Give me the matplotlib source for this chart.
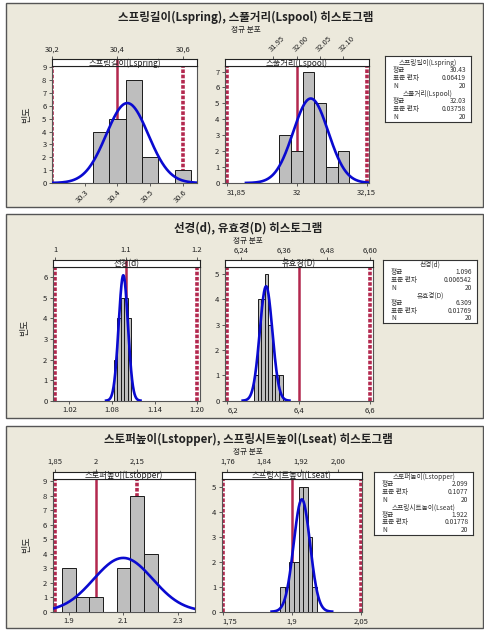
import numpy as np
import matplotlib
matplotlib.use('Agg')
import matplotlib.pyplot as plt
from matplotlib.patches import Rectangle

plt.rcParams['font.family'] = ['Noto Sans CJK KR', 'DejaVu Sans']

# ---------------- data ----------------
# Panel 1
spring_bins = [30.35, 30.40, 30.45, 30.50, 30.55, 30.60]
spring_counts = [4, 5, 8, 2, 0, 1]
spring_width = 0.05
spring_mean, spring_sd, spring_n = 30.43, 0.06419, 20
spring_spec = [30.2, 30.4, 30.6]

spool_bins = [31.975, 32.000, 32.025, 32.050, 32.075, 32.100]
spool_counts = [3, 2, 7, 5, 1, 2]
spool_width = 0.025
spool_mean, spool_sd, spool_n = 32.03, 0.03758, 20
spool_spec = [31.85, 32.0, 32.15]

# Panel 2
d_bins = [1.085, 1.090, 1.095, 1.100, 1.105]
d_counts = [2, 4, 5, 5, 4]
d_width = 0.005
d_mean, d_sd, d_n = 1.096, 0.006542, 20
d_spec = [1.0, 1.1, 1.2]

D_bins = [6.28, 6.29, 6.30, 6.31, 6.32, 6.33, 6.34, 6.35]
D_counts = [1, 4, 4, 5, 3, 1, 1, 1]
D_width = 0.01
D_mean, D_sd, D_n = 6.309, 0.01769, 20
D_spec = [6.2, 6.4, 6.6]

# Panel 3
stopper_bins = [1.90, 1.95, 2.00, 2.05, 2.10, 2.15, 2.20]
stopper_counts = [3, 1, 1, 0, 3, 8, 4]
stopper_width = 0.05
stopper_mean, stopper_sd, stopper_n = 2.099, 0.1077, 20
stopper_spec = [1.85, 2.0, 2.15]

seat_bins = [1.88, 1.89, 1.90, 1.91, 1.92, 1.93, 1.94, 1.95]
seat_counts = [1, 1, 2, 2, 5, 5, 3, 1]
seat_width = 0.01
seat_mean, seat_sd, seat_n = 1.922, 0.01778, 20
seat_spec = [1.75, 1.90, 2.05]

titles = ['스프링길이(Lspring), 스풀거리(Lspool) 히스토그램',
          '선경(d), 유효경(D) 히스토그램',
          '스토퍼높이(Lstopper), 스프링시트높이(Lseat) 히스토그램']
subtitle = '정규 분포'
ylabel = '빈도'
stat_labels = ['평균', '표준 편차', 'N']

# ---------------- style ----------------
W, H = 485, 630
RED = '#B3284E'
BLUE = '#0A0AD0'
BAR = '#BEBEBE'
BG = '#ECE9DC'
TXT = '#222222'
FS_TICK = 5.5
FS_BOX = 4.8

fig = plt.figure(figsize=(W / 100, H / 100), dpi=100)
fig.patch.set_facecolor('white')


def px_axes(x0, y0, x1, y1):
    return fig.add_axes([x0 / W, 1 - y1 / H, (x1 - x0) / W, (y1 - y0) / H])


def panel_box(x0, y0, x1, y1):
    fig.add_artist(Rectangle((x0 / W, 1 - y1 / H), (x1 - x0) / W, (y1 - y0) / H,
                             transform=fig.transFigure, facecolor=BG,
                             edgecolor='#555555', lw=1.0, zorder=-5))


def draw_hist(xr, ys, bins, counts, width, mean, sd, n, spec, xlim, ylim,
              yticks, top_ticks, top_labels, bot_ticks, bot_labels, strip_text,
              bot_rot=False, top_rot=False, red_in_strip=False,
              left_edge_label=False):
    x0, x1 = xr
    strip_top, plot_top, plot_bot = ys
    ax = px_axes(x0, plot_top, x1, plot_bot)
    ax.set_facecolor('white')
    ax.bar(bins, counts, width=width, color=BAR, edgecolor='#1a1a1a',
           lw=0.7, zorder=3)
    xs = np.linspace(mean - 3.7 * sd, mean + 3.7 * sd, 400)
    pdf = n * width * np.exp(-0.5 * ((xs - mean) / sd) ** 2) / (sd * np.sqrt(2 * np.pi))
    ax.plot(xs, pdf, color=BLUE, lw=1.9, zorder=4)
    ax.axvline(spec[1], color=RED, lw=1.8, zorder=2)
    for s in (spec[0], spec[2]):
        ax.axvline(s, color=RED, lw=2.6, ls=(0, (1.0, 0.45)), zorder=2)
    ax.set_xlim(*xlim)
    ax.set_ylim(0, ylim)
    ax.set_yticks(yticks)
    ax.set_yticklabels([str(v) for v in yticks])
    ax.set_xticks(bot_ticks)
    if bot_rot:
        ax.set_xticklabels(bot_labels, rotation=45, ha='right',
                           rotation_mode='anchor')
    else:
        ax.set_xticklabels(bot_labels)
    if left_edge_label:
        ax.xaxis.get_major_ticks()[0].label1.set_horizontalalignment('left')
    ax.tick_params(axis='both', labelsize=FS_TICK, length=2.5, width=0.6,
                   pad=1.5, colors='#444444', labelcolor=TXT)
    for s in ax.spines.values():
        s.set_color('#555555')
        s.set_linewidth(0.8)

    sa = px_axes(x0, strip_top, x1, plot_top)
    sa.set_facecolor('white')
    sa.set_xlim(*xlim)
    sa.set_ylim(0, 1)
    sa.set_yticks([])
    sa.xaxis.tick_top()
    sa.set_xticks(top_ticks)
    if top_rot:
        sa.set_xticklabels(top_labels, rotation=45, ha='left',
                           rotation_mode='anchor')
    else:
        sa.set_xticklabels(top_labels)
    sa.tick_params(axis='x', labelsize=FS_TICK, length=2.5, width=0.6, pad=1.5,
                   colors='#444444', labelcolor=TXT)
    for s in sa.spines.values():
        s.set_color('#222222')
        s.set_linewidth(0.8)
    if red_in_strip:
        sa.axvline(spec[1], color=RED, lw=1.8, zorder=1)
    sa.text(0.5, 0.45, strip_text, transform=sa.transAxes, ha='center',
            va='center', fontsize=6, color=TXT, zorder=3)
    return ax


def stats_box(x0, y0, x1, y1, first_y, names, means, sds, ns, step=7.7):
    bx = px_axes(x0, y0, x1, y1)
    bx.set_xlim(x0, x1)
    bx.set_ylim(y1, y0)
    bx.set_xticks([])
    bx.set_yticks([])
    bx.set_facecolor('white')
    for s in bx.spines.values():
        s.set_color('#333333')
        s.set_linewidth(0.8)
    y = first_y
    for name, m, sd, n in zip(names, means, sds, ns):
        bx.text((x0 + x1) / 2, y, name, ha='center', va='center',
                fontsize=FS_BOX, color='#333333')
        y += step
        for lab, val in zip(stat_labels, [f'{m}', f'{sd}', f'{n}']):
            bx.text(x0 + 8, y, lab, ha='left', va='center', fontsize=FS_BOX,
                    color='#333333')
            bx.text(x1 - 5, y, val, ha='right', va='center', fontsize=FS_BOX,
                    color='#333333')
            y += step


def headers(cx, ty, sy, title, lx, ly):
    fig.text(cx / W, 1 - ty / H, title, ha='center', va='center',
             fontsize=8.3, weight='bold', color=TXT)
    fig.text(cx / W, 1 - sy / H, subtitle, ha='center', va='center',
             fontsize=5.5, color=TXT)
    fig.text(lx / W, 1 - ly / H, ylabel, ha='center', va='center',
             rotation=90, fontsize=6.5, color=TXT)


# ---------------- panel 1 ----------------
panel_box(6, 3, 483, 207)
headers(246, 17, 30, titles[0], 27, 115)
draw_hist((52, 197), (59, 66, 183), spring_bins, spring_counts, spring_width,
          spring_mean, spring_sd, spring_n, spring_spec, (30.2, 30.643), 9.1,
          list(range(0, 10)), [30.2, 30.4, 30.6], ['30,2', '30,4', '30,6'],
          [30.3, 30.4, 30.5, 30.6], ['30.3', '30.4', '30.5', '30.6'],
          '스프링길이(Lspring)', bot_rot=True, red_in_strip=True)
draw_hist((225, 369), (59, 66, 183), spool_bins, spool_counts, spool_width,
          spool_mean, spool_sd, spool_n, spool_spec, (31.846, 32.155), 7.35,
          list(range(0, 8)), [31.95, 32.00, 32.05, 32.10],
          ['31.95', '32.00', '32.05', '32.10'],
          [31.85, 32.0, 32.15], ['31,85', '32', '32,15'],
          '스풀거리(Lspool)', top_rot=True, left_edge_label=True)
stats_box(385, 56, 471, 122, 62.7, ['스프링길이(Lspring)', '스풀거리(Lspool)'],
          [spring_mean, spool_mean], [spring_sd, spool_sd], [spring_n, spool_n])

# ---------------- panel 2 ----------------
panel_box(6, 214, 483, 418)
headers(248, 227.5, 240.5, titles[1], 25, 328)
draw_hist((53, 200), (260, 267, 400.7), d_bins, d_counts, d_width,
          d_mean, d_sd, d_n, d_spec, (0.997, 1.204), 6.5,
          list(range(0, 7)), [1.0, 1.1, 1.2], ['1', '1.1', '1.2'],
          [1.02, 1.08, 1.14, 1.20], ['1.02', '1.08', '1.14', '1.20'],
          '선경(d)', red_in_strip=True)
draw_hist((225, 372.7), (260, 267, 400.7), D_bins, D_counts, D_width,
          D_mean, D_sd, D_n, D_spec, (6.194, 6.6075), 5.27,
          list(range(0, 6)), [6.24, 6.36, 6.48, 6.60],
          ['6,24', '6,36', '6,48', '6,60'],
          [6.2, 6.4, 6.6], ['6,2', '6,4', '6,6'],
          '유효경(D)', left_edge_label=True)
stats_box(383, 260, 477, 322.5, 264.5, ['선경(d)', '유효경(D)'],
          [d_mean, D_mean], [d_sd, D_sd], [d_n, D_n])

# ---------------- panel 3 ----------------
panel_box(6, 426, 483, 628)
headers(248, 439, 452, titles[2], 27, 545)
draw_hist((52.7, 195), (471.7, 479, 611.7), stopper_bins, stopper_counts,
          stopper_width, stopper_mean, stopper_sd, stopper_n, stopper_spec,
          (1.8416, 2.361), 9.14,
          list(range(0, 10)), [1.85, 2.0, 2.15], ['1,85', '2', '2,15'],
          [1.9, 2.1, 2.3], ['1.9', '2.1', '2.3'],
          '스토퍼높이(Lstopper)')
draw_hist((221.7, 361.7), (471.7, 479, 611.7), seat_bins, seat_counts,
          seat_width, seat_mean, seat_sd, seat_n, seat_spec,
          (1.7478, 2.052), 5.3,
          list(range(0, 6)), [1.76, 1.84, 1.92, 2.00],
          ['1,76', '1,84', '1,92', '2,00'],
          [1.75, 1.9, 2.05], ['1,75', '1,9', '2,05'],
          '스프링시트높이(Lseat)', left_edge_label=True)
stats_box(374, 471.7, 473.3, 535, 476.7,
          ['스토퍼높이(Lstopper)', '스프링시트높이(Lseat)'],
          [stopper_mean, seat_mean], [stopper_sd, seat_sd],
          [stopper_n, seat_n], step=7.6)

fig.savefig('out.png', dpi=100, facecolor='white')
